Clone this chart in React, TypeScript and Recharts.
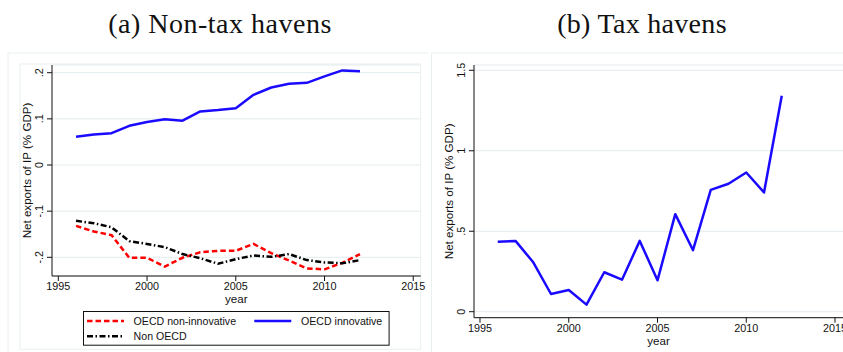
import React from 'react';
import { LineChart, Line, XAxis, YAxis, CartesianGrid, Legend } from 'recharts';

// Net exports of intellectual property, % of GDP
const years = [1996, 1997, 1998, 1999, 2000, 2001, 2002, 2003, 2004, 2005, 2006, 2007, 2008, 2009, 2010, 2011, 2012];
const oecdNonInnovative = [-0.132, -0.144, -0.152, -0.201, -0.201, -0.220, -0.201, -0.189, -0.186, -0.186, -0.171, -0.191, -0.207, -0.224, -0.226, -0.212, -0.193];
const oecdInnovative = [0.061, 0.066, 0.069, 0.085, 0.093, 0.099, 0.096, 0.116, 0.119, 0.123, 0.152, 0.168, 0.176, 0.178, 0.192, 0.205, 0.203];
const nonOecd = [-0.121, -0.126, -0.135, -0.165, -0.171, -0.178, -0.193, -0.202, -0.214, -0.204, -0.196, -0.199, -0.193, -0.206, -0.211, -0.213, -0.206];
const taxHavens = [0.434, 0.440, 0.307, 0.110, 0.135, 0.044, 0.245, 0.199, 0.440, 0.195, 0.606, 0.382, 0.757, 0.795, 0.865, 0.741, 1.342];

const xTicks = [1995, 2000, 2005, 2010, 2015];
const yTicksA = [-0.2, -0.1, 0, 0.1, 0.2];
const yTickLabelsA = ['-.2', '-.1', '0', '.1', '.2'];
const yTicksB = [0, 0.5, 1, 1.5];
const yTickLabelsB = ['0', '.5', '1', '1.5'];

const titleA = '(a) Non-tax havens';
const titleB = '(b) Tax havens';
const yTitle = 'Net exports of IP (% GDP)';
const xTitle = 'year';

const seriesNames = {
  nonInnov: 'OECD non-innovative',
  innov: 'OECD innovative',
  nonOecd: 'Non OECD',
  havens: 'Tax havens',
};

const rowsA = years.map((year, i) => ({
  year,
  nonInnov: oecdNonInnovative[i],
  innov: oecdInnovative[i],
  nonOecd: nonOecd[i],
}));
const rowsB = years.map((year, i) => ({ year, havens: taxHavens[i] }));

const SANS = '"Liberation Sans", Arial, Helvetica, sans-serif';
const SERIF = '"Liberation Serif", "Times New Roman", serif';
const GRID = '#e3ebee';
const FRAME = '#e9f0f1';
const BLUE = 'rgb(26,10,255)';
const RED = 'rgb(255,0,0)';

const lineStyles: Record<string, { stroke: string; dash?: string }> = {
  nonInnov: { stroke: RED, dash: '5.5 3' },
  innov: { stroke: BLUE },
  nonOecd: { stroke: '#000', dash: '6 2.5 1.5 2.5' },
  havens: { stroke: BLUE },
};

const makeYTick = (ticks: number[], labels: string[]) => (props: any) => {
  const { x, y, payload } = props;
  const idx = ticks.findIndex((t) => Math.abs(t - payload.value) < 1e-9);
  const cx = x - 6;
  return (
    <text
      x={cx}
      y={y}
      dy="0.36em"
      transform={`rotate(-90 ${cx} ${y})`}
      textAnchor="middle"
      fontSize={10.8}
      fontFamily={SANS}
      fill="#111"
    >
      {idx >= 0 ? labels[idx] : ''}
    </text>
  );
};

const XTick = (props: any) => {
  const { x, y, payload } = props;
  return (
    <text x={x} y={y} dy={7.4} textAnchor="middle" fontSize={10.8} fontFamily={SANS} fill="#111">
      {payload.value}
    </text>
  );
};

const makeYTitle = (plotLeft: number, plotTop: number, plotBottom: number) => () => {
  const cx = plotLeft - 25.6;
  const cy = (plotTop + plotBottom) / 2;
  return (
    <text
      x={cx}
      y={cy}
      dy="0.36em"
      transform={`rotate(-90 ${cx} ${cy})`}
      textAnchor="middle"
      fontSize={11.6}
      fontFamily={SANS}
      fill="#111"
    >
      {yTitle}
    </text>
  );
};

const makeXTitle = (plotLeft: number, plotRight: number, plotBottom: number) => () => (
  <text
    x={(plotLeft + plotRight) / 2}
    y={plotBottom + 26.8}
    textAnchor="middle"
    fontSize={11.6}
    fontFamily={SANS}
    fill="#111"
  >
    {xTitle}
  </text>
);

// Legend slot for each series key: two columns, two rows
const legendSlots: Record<string, { lx: number; ly: number; tx: number }> = {
  nonInnov: { lx: 4, ly: 10, tx: 50.6 },
  innov: { lx: 171.3, ly: 10, tx: 218 },
  nonOecd: { lx: 4, ly: 25.3, tx: 50.6 },
};

const LegendBox = (props: any) => {
  const payload: any[] = props.payload || [];
  return (
    <svg width={307} height={35} style={{ display: 'block', overflow: 'visible' }}>
      <rect x={0.5} y={0.5} width={305.6} height={33.7} fill="#fff" stroke="#111" strokeWidth={1} />
      {payload.map((item) => {
        const key = String(item.dataKey);
        const slot = legendSlots[key];
        if (!slot) return null;
        const st = lineStyles[key] || { stroke: item.color };
        return (
          <g key={key}>
            <line
              x1={slot.lx}
              x2={slot.lx + 37}
              y1={slot.ly}
              y2={slot.ly}
              stroke={st.stroke}
              strokeWidth={2.5}
              strokeDasharray={st.dash}
            />
            <text x={slot.tx} y={slot.ly} dy={3.9} fontSize={10.6} fontFamily={SANS} fill="#111">
              {item.value}
            </text>
          </g>
        );
      })}
    </svg>
  );
};

// Panel (a) geometry
const A = { width: 430, height: 352, left: 52, right: 420.7, top: 65, bottom: 276 };
// Panel (b) geometry (chart starts at page x = 430)
const B = { width: 413, height: 352, left: 44, right: 413, top: 65, bottom: 317.7 };

export default function App() {
  return (
    <div
      style={{
        position: 'absolute',
        left: 0,
        top: 0,
        width: 843,
        height: 352,
        background: '#fff',
        overflow: 'hidden',
      }}
    >
      <svg width={843} height={352} style={{ position: 'absolute', left: 0, top: 0 }}>
        <line x1={8} x2={428} y1={53} y2={53} stroke={FRAME} strokeWidth={1} />
        <line x1={8} x2={8} y1={53} y2={352} stroke={FRAME} strokeWidth={1} />
        <rect x={20} y={64} width={400.7} height={285.3} fill="none" stroke={FRAME} strokeWidth={1} />
        <line x1={431.5} x2={843} y1={53} y2={53} stroke={FRAME} strokeWidth={1} />
        <line x1={431.5} x2={431.5} y1={53} y2={352} stroke={FRAME} strokeWidth={1} />
        <text x={220} y={33} textAnchor="middle" fontSize={28} fontFamily={SERIF} fill="#111" letterSpacing={0.5}>
          {titleA}
        </text>
        <text x={642} y={33} textAnchor="middle" fontSize={28} fontFamily={SERIF} fill="#111" letterSpacing={0.3}>
          {titleB}
        </text>
      </svg>

      <div style={{ position: 'absolute', left: 0, top: 0 }}>
        <LineChart
          width={A.width}
          height={A.height}
          data={rowsA}
          margin={{ left: A.left - 30, right: A.width - A.right, top: A.top, bottom: A.height - A.bottom - 30 }}
          style={{ fontFamily: SANS }}
        >
          <CartesianGrid horizontal vertical={false} stroke={GRID} strokeWidth={1} />
          <XAxis
            dataKey="year"
            type="number"
            domain={[1994.645, 2015.42]}
            ticks={xTicks}
            interval={0}
            height={30}
            tickSize={5}
            tickMargin={2}
            stroke="#111"
            tick={<XTick />}
            label={{ content: makeXTitle(A.left, A.right, A.bottom) }}
          />
          <YAxis
            type="number"
            domain={[-0.2405, 0.2167]}
            ticks={yTicksA}
            interval={0}
            width={30}
            tickSize={5}
            tickMargin={2}
            stroke="#111"
            tick={makeYTick(yTicksA, yTickLabelsA)}
            label={{ content: makeYTitle(A.left, A.top, A.bottom) }}
          />
          <Legend
            layout="vertical"
            align="center"
            verticalAlign="middle"
            content={<LegendBox />}
            wrapperStyle={{ left: 82.7, top: 311, width: 307, height: 35, right: 'auto', bottom: 'auto' }}
          />
          <Line
            type="linear"
            dataKey="nonInnov"
            name={seriesNames.nonInnov}
            stroke={RED}
            strokeWidth={2.5}
            strokeDasharray={lineStyles.nonInnov.dash}
            dot={false}
            isAnimationActive={false}
          />
          <Line
            type="linear"
            dataKey="innov"
            name={seriesNames.innov}
            stroke={BLUE}
            strokeWidth={2.5}
            strokeLinejoin="round"
            dot={false}
            isAnimationActive={false}
          />
          <Line
            type="linear"
            dataKey="nonOecd"
            name={seriesNames.nonOecd}
            stroke="#000"
            strokeWidth={2.5}
            strokeDasharray={lineStyles.nonOecd.dash}
            dot={false}
            isAnimationActive={false}
          />
        </LineChart>
      </div>

      <div style={{ position: 'absolute', left: 430, top: 0 }}>
        <LineChart
          width={B.width}
          height={B.height}
          data={rowsB}
          margin={{ left: B.left - 30, right: B.width - B.right, top: B.top, bottom: B.height - B.bottom - 30 }}
          style={{ fontFamily: SANS, overflow: 'visible' }}
        >
          <CartesianGrid horizontal vertical={false} stroke={GRID} strokeWidth={1} />
          <XAxis
            dataKey="year"
            type="number"
            domain={[1994.662, 2015.45]}
            ticks={xTicks}
            interval={0}
            height={30}
            tickSize={5}
            tickMargin={2}
            stroke="#111"
            tick={<XTick />}
            label={{ content: makeXTitle(B.left, B.right, B.bottom) }}
          />
          <YAxis
            type="number"
            domain={[-0.0373, 1.533]}
            ticks={yTicksB}
            interval={0}
            width={30}
            tickSize={5}
            tickMargin={2}
            stroke="#111"
            tick={makeYTick(yTicksB, yTickLabelsB)}
            label={{ content: makeYTitle(B.left, B.top, B.bottom) }}
          />
          <Line
            type="linear"
            dataKey="havens"
            name={seriesNames.havens}
            stroke={BLUE}
            strokeWidth={2.5}
            strokeLinejoin="round"
            dot={false}
            isAnimationActive={false}
          />
        </LineChart>
      </div>
    </div>
  );
}
